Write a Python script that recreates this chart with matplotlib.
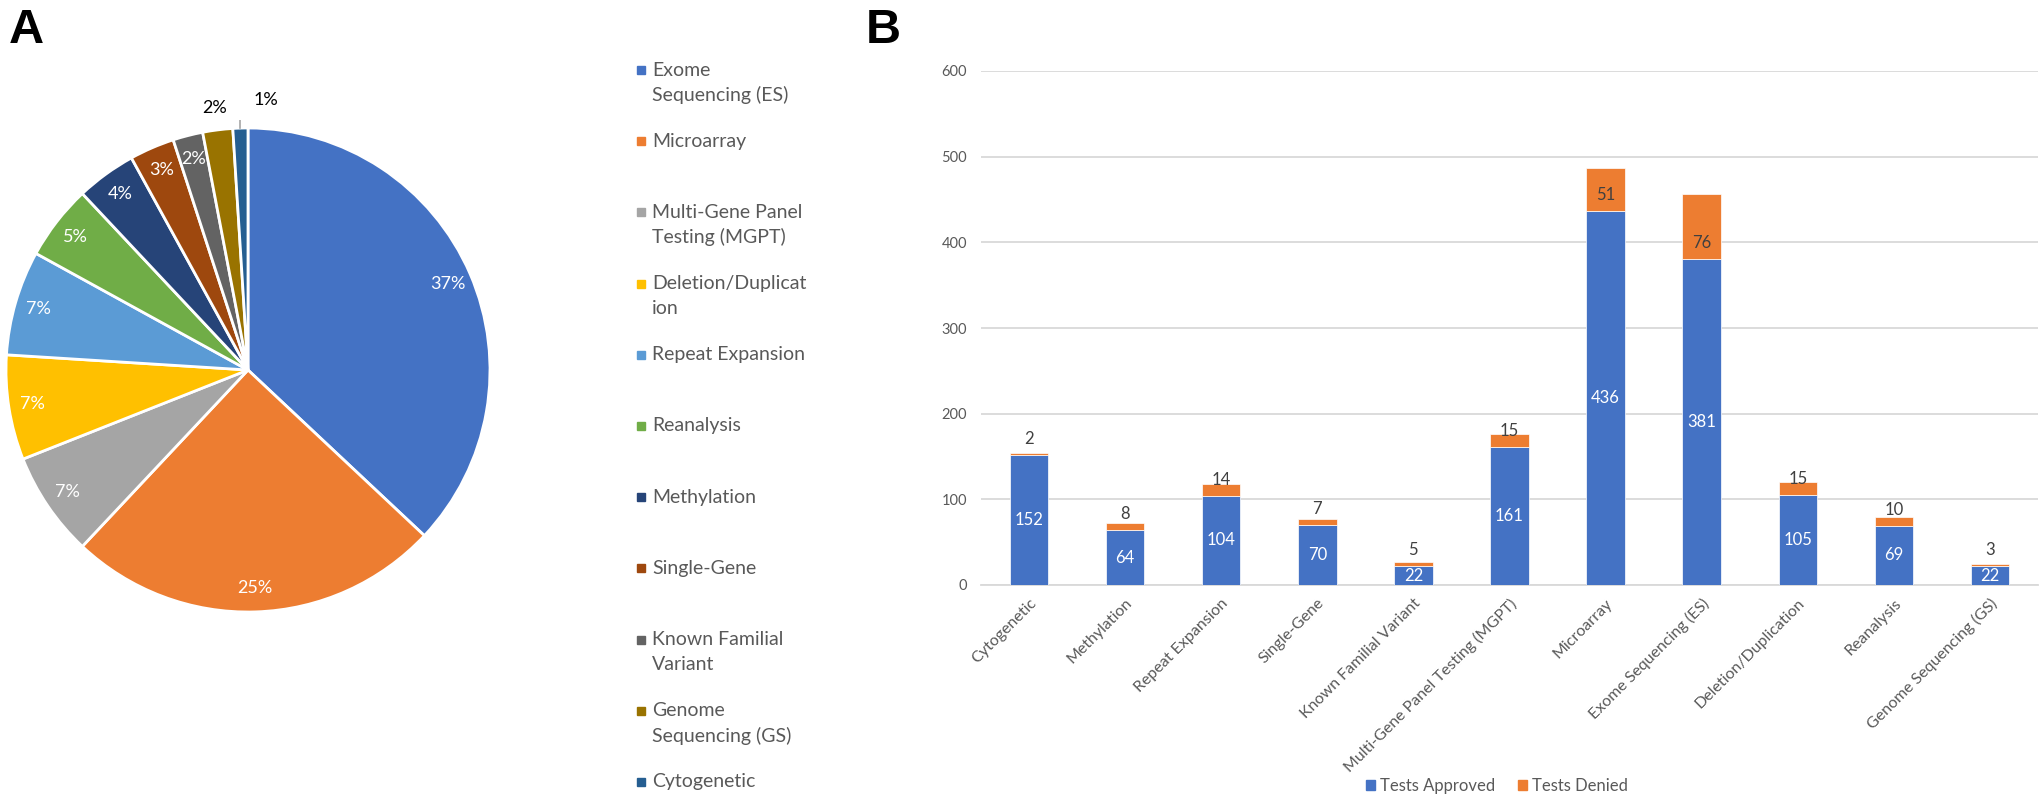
import numpy as np
import matplotlib.pyplot as plt
from matplotlib.patches import Rectangle, Patch
from matplotlib.lines import Line2D

# panel A: share of tests by type (%)
pie_labels = ['Exome\nSequencing (ES)', 'Microarray', 'Multi-Gene Panel\nTesting (MGPT)',
              'Deletion/Duplicat\nion', 'Repeat Expansion', 'Reanalysis', 'Methylation',
              'Single-Gene', 'Known Familial\nVariant', 'Genome\nSequencing (GS)', 'Cytogenetic']
pie_pct = [37, 25, 7, 7, 7, 5, 4, 3, 2, 2, 1]
pie_colors = ['#4472C4', '#ED7D31', '#A5A5A5', '#FFC000', '#5B9BD5', '#70AD47',
              '#264478', '#9E480E', '#636363', '#997300', '#255E91']

# panel B: approved / denied tests
categories = ['Cytogenetic', 'Methylation', 'Repeat Expansion', 'Single-Gene',
              'Known Familial Variant', 'Multi-Gene Panel Testing (MGPT)', 'Microarray',
              'Exome Sequencing (ES)', 'Deletion/Duplication', 'Reanalysis',
              'Genome Sequencing (GS)']
approved = [152, 64, 104, 70, 22, 161, 436, 381, 105, 69, 22]
denied = [2, 8, 14, 7, 5, 15, 51, 76, 15, 10, 3]

W, H = 2040, 798
plt.rcParams['font.family'] = ['Lato', 'DejaVu Sans']
fig = plt.figure(figsize=(W / 100, H / 100), dpi=100)


def fx(px):
    return px / W


def fy(py):
    return 1 - py / H


# ---- pie ----
R, cx, cy, half = 242, 248, 370, 250
ax1 = fig.add_axes([fx(cx - half), fy(cy + half), 2 * half / W, 2 * half / H])
wedges, texts, autotexts = ax1.pie(pie_pct, colors=pie_colors, startangle=90, counterclock=False,
                                   autopct='%1.0f%%', pctdistance=0.9,
                                   wedgeprops=dict(edgecolor='white', linewidth=2),
                                   textprops=dict(color='white', fontsize=13))
ax1.set_xlim(-half / R, half / R)
ax1.set_ylim(-half / R, half / R)
ax1.set_aspect('equal')
ax1.axis('off')

# small slices get their labels outside
m = np.deg2rad((wedges[9].theta1 + wedges[9].theta2) / 2)
autotexts[9].set_position((1.09 * np.cos(m), 1.09 * np.sin(m)))
autotexts[9].set_color('black')
m = np.deg2rad((wedges[10].theta1 + wedges[10].theta2) / 2)
x0 = np.cos(m)
ax1.add_line(Line2D([x0, x0, x0 + 0.04], [np.sin(m), 1.09, 1.09], color='#A6A6A6', lw=1.2))
autotexts[10].set_position((x0 + 0.055, 1.115))
autotexts[10].set_ha('left')
autotexts[10].set_color('black')

# pie legend, excel style
for i, lab in enumerate(pie_labels):
    y0 = 70 + 71.2 * i
    fig.patches.append(Rectangle((fx(637), fy(y0 + 4)), 8 / W, 8 / H, color=pie_colors[i],
                                 transform=fig.transFigure, figure=fig))
    for j, line in enumerate(lab.split('\n')):
        fig.text(fx(652), fy(y0 + 25 * j), line, fontsize=14, color='#595959', va='center')

# ---- stacked bars ----
ax2 = fig.add_axes([fx(981), fy(585), 1057 / W, 514 / H])
x = np.arange(len(categories))
ax2.bar(x, approved, width=0.4, color='#4472C4', edgecolor='white', linewidth=0.5, zorder=3)
ax2.bar(x, denied, bottom=approved, width=0.4, color='#ED7D31', edgecolor='white', linewidth=0.5, zorder=3)
ax2.set_xlim(-0.5, 10.5)
ax2.set_ylim(0, 600)
ax2.set_yticks(range(0, 601, 100))
ax2.yaxis.grid(True, color='#D9D9D9', lw=1.3)
ax2.set_axisbelow(True)
for s in ['top', 'right', 'left']:
    ax2.spines[s].set_visible(False)
ax2.spines['bottom'].set_color('#D9D9D9')
ax2.spines['bottom'].set_linewidth(1.3)
ax2.tick_params(length=0, labelcolor='#595959', labelsize=10.5)
ax2.tick_params(axis='y', pad=10)
ax2.tick_params(axis='x', pad=8, labelsize=11.5)
ax2.set_xticks(x)
ax2.set_xticklabels(categories, rotation=45, ha='right', rotation_mode='anchor')

for i in range(len(categories)):
    ax2.text(i, approved[i] / 2, str(approved[i]), ha='center', va='center', color='white',
             fontsize=12, zorder=4)
    ax2.annotate(str(denied[i]), (i, approved[i]), xytext=(0, 16), textcoords='offset pixels',
                 ha='center', va='center', color='#404040', fontsize=12, zorder=4)

fig.legend(handles=[Patch(color='#4472C4', label='Tests Approved'),
                    Patch(color='#ED7D31', label='Tests Denied')],
           loc='center', bbox_to_anchor=(fx(1497), fy(786)), ncol=2, frameon=False,
           fontsize=12, handlelength=0.55, handleheight=0.55, handletextpad=0.3,
           columnspacing=1.4, labelcolor='#595959')

fig.text(fx(9), fy(43), 'A', fontsize=35, weight='bold', family='Liberation Sans', va='baseline')
fig.text(fx(866), fy(43), 'B', fontsize=35, weight='bold', family='Liberation Sans', va='baseline')

fig.savefig('out.png', dpi=100)
